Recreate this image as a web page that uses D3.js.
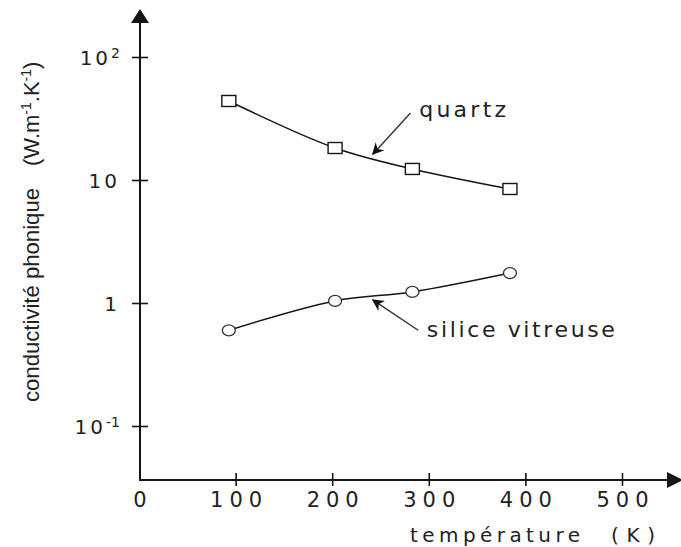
<!DOCTYPE html>
<html><head><meta charset="utf-8">
<script src="https://cdn.jsdelivr.net/npm/d3@7"></script>
<style>body{margin:0;background:#fff}svg{display:block}</style>
</head><body><svg id="c" width="681" height="547"></svg>
<script>
// ---- data ----
const temperatures = [93, 203, 283, 384];          // K
const quartz = [43.9, 18.2, 12.3, 8.45];           // W.m-1.K-1
const silice = [0.60, 1.04, 1.23, 1.75];
const xTicks = [100, 200, 300, 400, 500];
const xTickLabels = ["100", "200", "300", "400", "500"];
const yTicks = [0.1, 1, 10, 100];
const yTickBase = ["10", "1", "10", "10"];
const yTickExp = ["-1", "", "", "2"];
// annotations in data coordinates [T, value]
const quartzArrow = [[281, 35.1], [242, 16.2]];
const siliceArrow = [[289, 0.60], [242, 1.06]];
const quartzLabelAt = [290, 32.5];
const siliceLabelAt = [298, 0.53];

const svg = d3.select("#c");
const ink = "#151515";
const x = d3.scaleLinear().domain([0, 500]).range([139, 622]);
const y = d3.scaleLog().domain([0.1, 100]).range([426, 57]);
const x0 = 140, yBottom = 480;
const tickFont = "'DejaVu Sans', sans-serif";

// arrowhead marker
const defs = svg.append("defs");
defs.append("marker").attr("id", "ah").attr("viewBox", "0 0 10 10")
  .attr("refX", 9).attr("refY", 5).attr("markerWidth", 14).attr("markerHeight", 12)
  .attr("markerUnits", "userSpaceOnUse").attr("orient", "auto")
  .append("path").attr("d", "M0,0 L10,5 L0,10 L3,5 Z").attr("fill", ink);

// axes lines with arrows
svg.append("line").attr("x1", x0).attr("y1", yBottom + 1).attr("x2", x0).attr("y2", 20)
  .attr("stroke", ink).attr("stroke-width", 2);
svg.append("path").attr("d", `M${x0},9 L${x0 + 9},23 L${x0 - 9},23 Z`).attr("fill", ink);
svg.append("line").attr("x1", x0 - 1).attr("y1", yBottom).attr("x2", 670).attr("y2", yBottom)
  .attr("stroke", ink).attr("stroke-width", 2);
svg.append("path").attr("d", `M683,${yBottom} L667,${yBottom - 8} L667,${yBottom + 8} Z`).attr("fill", ink);

// x axis
const gx = svg.append("g").attr("transform", `translate(0,${yBottom})`)
  .call(d3.axisBottom(x).tickValues(xTicks).tickSizeInner(7).tickSizeOuter(0)
    .tickFormat((d, i) => xTickLabels[i]));
gx.select(".domain").remove();
gx.selectAll(".tick line").attr("y1", -7).attr("y2", 6).attr("stroke", ink).attr("stroke-width", 1.6);
gx.selectAll(".tick text").attr("y", 27).attr("dy", 0).attr("fill", "#222").attr("dx", 3)
  .style("font-family", tickFont).style("font-size", "21px").style("letter-spacing", "6px");
svg.append("text").attr("x", x0).attr("y", 507).attr("text-anchor", "middle")
  .style("font-family", tickFont).style("font-size", "21px").attr("fill", "#222").text("0");

// y axis
const gy = svg.append("g").attr("transform", `translate(${x0},0)`)
  .call(d3.axisLeft(y).tickValues(yTicks).tickSizeInner(8).tickSizeOuter(0).tickFormat(() => ""));
gy.select(".domain").remove();
gy.selectAll(".tick line").attr("x1", -8).attr("x2", 8).attr("stroke", ink).attr("stroke-width", 1.6);
gy.selectAll(".tick text").each(function (d, i) {
  const t = d3.select(this).attr("x", -20).attr("dy", "0.36em").attr("fill", "#222")
    .style("font-family", tickFont).style("font-size", "20px").attr("text-anchor", "end");
  t.append("tspan").style("letter-spacing", "3px").text(yTickBase[i]);
  if (yTickExp[i]) t.append("tspan").attr("dy", "-0.45em").style("font-size", "14px").text(yTickExp[i]);
});

// y label
const ylab = svg.append("g").attr("transform", "translate(39,0) rotate(-90)")
  .style("font-family", "'Liberation Sans Narrow','Liberation Sans',sans-serif").style("font-size", "22px").attr("fill", "#222");
ylab.append("text").attr("x", -402).attr("y", 0).attr("textLength", 214).attr("lengthAdjust", "spacingAndGlyphs")
  .text("conductivité phonique");
const u = ylab.append("text").attr("x", -166).attr("y", 0);
u.append("tspan").text("(W.m");
u.append("tspan").attr("dy", -8).style("font-size", "14px").text("-1");
u.append("tspan").attr("dy", 8).text(".K");
u.append("tspan").attr("dy", -8).style("font-size", "14px").text("-1");
u.append("tspan").attr("dy", 8).text(")");

// x label
svg.append("text").attr("x", 410).attr("y", 542).attr("textLength", 170).attr("lengthAdjust", "spacing")
  .style("font-family", tickFont).style("font-size", "20px").attr("fill", "#222").text("température");
svg.append("text").attr("x", 611).attr("y", 542).attr("textLength", 44).attr("lengthAdjust", "spacing")
  .style("font-family", tickFont).style("font-size", "20px").attr("fill", "#222").text("(K)");

// series
const line = d3.line().x((d, i) => x(temperatures[i])).y(d => y(d)).curve(d3.curveCatmullRom.alpha(0.5));
svg.append("path").datum(quartz).attr("d", line).attr("fill", "none").attr("stroke", ink).attr("stroke-width", 1.5);
svg.append("path").datum(silice).attr("d", line).attr("fill", "none").attr("stroke", ink).attr("stroke-width", 1.5);
svg.selectAll("rect.q").data(quartz).join("rect").attr("class", "q")
  .attr("x", (d, i) => x(temperatures[i]) - 7).attr("y", d => y(d) - 5.5)
  .attr("width", 14).attr("height", 11).attr("fill", "#fff").attr("stroke", ink).attr("stroke-width", 1.4);
svg.selectAll("ellipse.s").data(silice).join("ellipse").attr("class", "s")
  .attr("cx", (d, i) => x(temperatures[i])).attr("cy", d => y(d))
  .attr("rx", 6.5).attr("ry", 5.5).attr("fill", "#fff").attr("stroke", "#333").attr("stroke-width", 1.3);

// annotations
[quartzArrow, siliceArrow].forEach(a => {
  svg.append("line").attr("x1", x(a[0][0])).attr("y1", y(a[0][1]))
    .attr("x2", x(a[1][0])).attr("y2", y(a[1][1]))
    .attr("stroke", "#333").attr("stroke-width", 1.4).attr("marker-end", "url(#ah)");
});
svg.append("text").attr("x", x(quartzLabelAt[0])).attr("y", y(quartzLabelAt[1]))
  .attr("textLength", 87).attr("lengthAdjust", "spacing")
  .style("font-family", tickFont).style("font-size", "22px").attr("fill", "#222").text("quartz");
svg.append("text").attr("x", x(siliceLabelAt[0])).attr("y", y(siliceLabelAt[1]))
  .attr("textLength", 188).attr("lengthAdjust", "spacing")
  .style("font-family", tickFont).style("font-size", "22px").attr("fill", "#222").text("silice vitreuse");
</script></body></html>
